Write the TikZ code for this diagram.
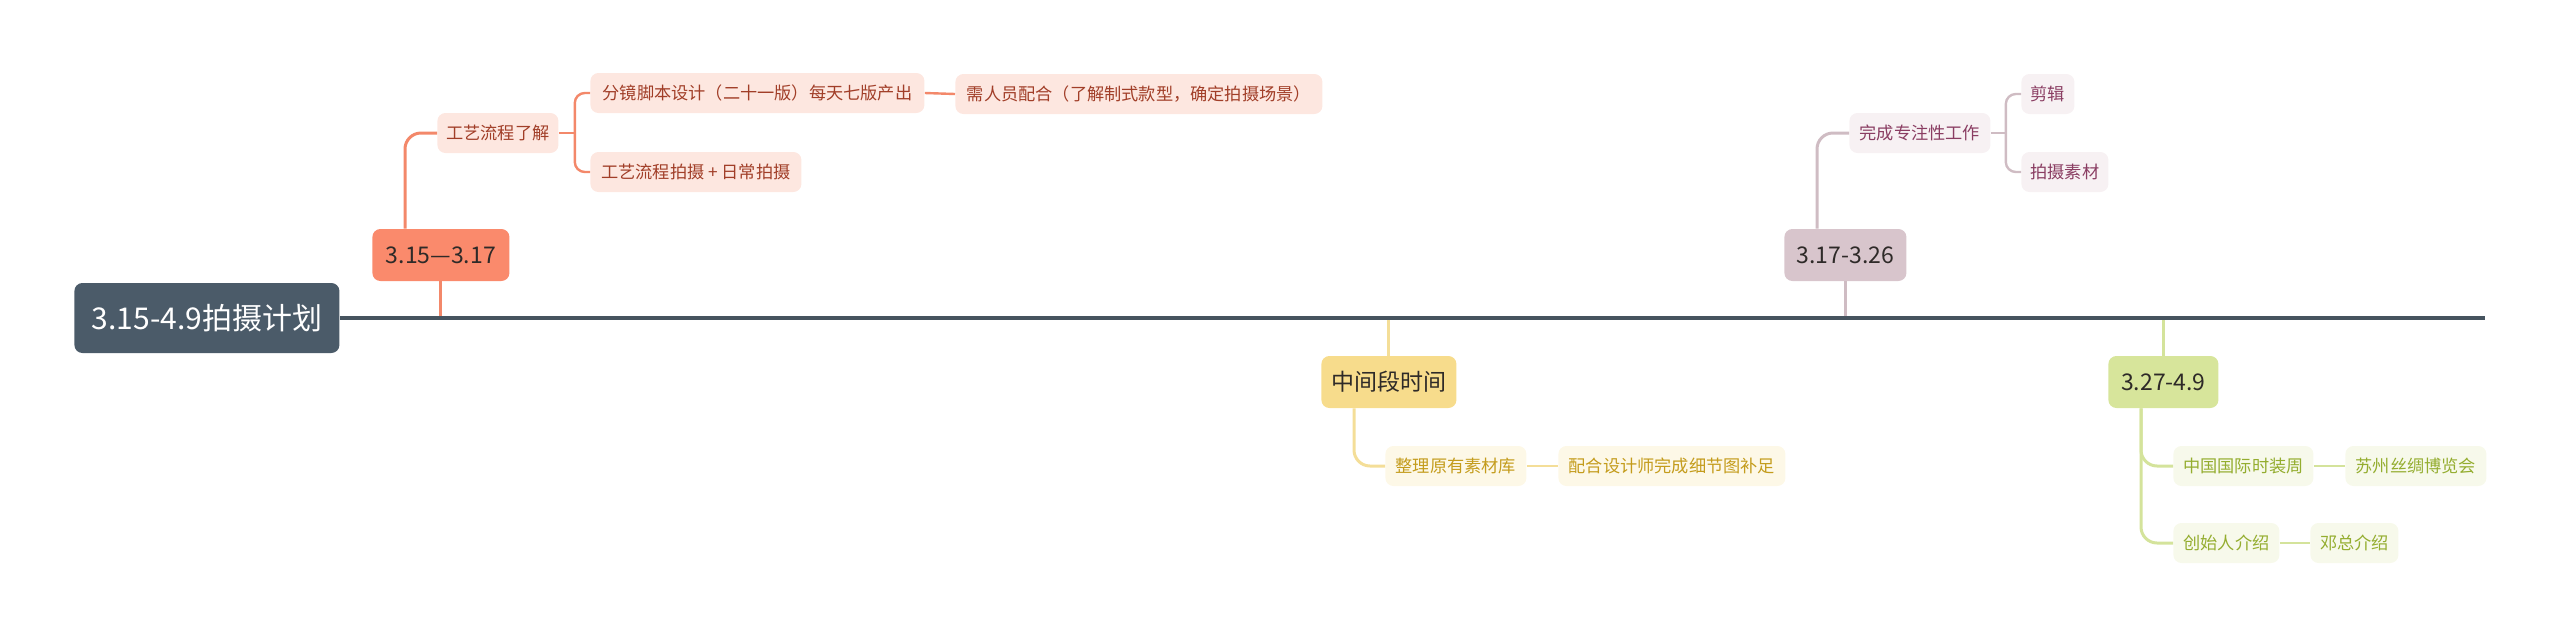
\documentclass[tikz,border=0pt]{standalone}
\usepackage{fontspec}
\newfontfamily\cjk{Noto Sans CJK SC}
\usetikzlibrary{calc}

\definecolor{rootc}{HTML}{4B5B69}
\definecolor{mainc}{HTML}{46545F}
\definecolor{stagetext}{HTML}{2E2A28}
\definecolor{coralfill}{HTML}{FA8A6C}
\definecolor{coralline}{HTML}{F3886A}
\definecolor{coralleaf}{HTML}{FDE7E0}
\definecolor{coraltext}{HTML}{A13E28}
\definecolor{mauvefill}{HTML}{D8C5CC}
\definecolor{mauveline}{HTML}{CFBCC3}
\definecolor{mauveleaf}{HTML}{F7F1F3}
\definecolor{mauvetext}{HTML}{8A3D62}
\definecolor{yelfill}{HTML}{F7DC8C}
\definecolor{yelline}{HTML}{F4DE98}
\definecolor{yelleaf}{HTML}{FDF8E7}
\definecolor{yeltext}{HTML}{C49C1C}
\definecolor{grnfill}{HTML}{D7E59B}
\definecolor{grnline}{HTML}{D4E39B}
\definecolor{grnleaf}{HTML}{F7F9EB}
\definecolor{grntext}{HTML}{94AD2F}

\tikzset{
  box/.style={anchor=west, rounded corners=4pt, inner sep=0pt, align=center},
  rootbox/.style={box, fill=rootc, text=white, minimum height=35pt, font=\cjk\fontsize{15}{18}\selectfont},
  stagebox/.style={box, text=stagetext, minimum height=26pt, font=\cjk\fontsize{11.5}{14}\selectfont},
  leafbox/.style={box, minimum height=20pt, font=\cjk\fontsize{8.6}{10}\selectfont},
  coralnode/.style={leafbox, fill=coralleaf, text=coraltext},
  mauvenode/.style={leafbox, fill=mauveleaf, text=mauvetext},
  yelnode/.style={leafbox, fill=yelleaf, text=yeltext},
  grnnode/.style={leafbox, fill=grnleaf, text=grntext},
  link/.style={line width=1.5pt, rounded corners=8pt},
  twig/.style={line width=1.2pt, rounded corners=5pt}
}

\begin{document}
\begin{tikzpicture}[x=0.5pt,y=-0.5pt]
  \useasboundingbox (0,0) rectangle (2560,638);

  \node (root) at (74,318) [rootbox, minimum width=132.5pt] {3.15-4.9拍摄计划};
  \coordinate (mend) at (2485,318);

  % 3.15--3.17
  \node (s1) at (372,255) [stagebox, fill=coralfill, minimum width=68.5pt] {3.15—3.17};
  \node (k1) at (437,133) [coralnode, minimum width=60.5pt] {工艺流程了解};
  \node (l1) at (590,93) [coralnode, minimum width=167pt] {分镜脚本设计（二十一版）每天七版产出};
  \node (l2) at (955,94) [coralnode, minimum width=183.5pt] {需人员配合（了解制式款型，确定拍摄场景）};
  \node (l3) at (590,172) [coralnode, minimum width=105.5pt] {工艺流程拍摄 + 日常拍摄};
  \coordinate (j1) at ($(k1.east)+(16,0)$);

  \draw[link, coralline] (s1.south) -- (s1.south |- root.east);
  \draw[link, coralline] ($(s1.north west)+(33,0)$) |- (k1.west);
  \draw[twig, coralline] (k1.east) -- (j1);
  \draw[twig, coralline] (j1) |- (l1.west);
  \draw[twig, coralline] (j1) |- (l3.west);
  \draw[twig, coralline] (l1.east) -- (l2.west);

  % 3.17--3.26
  \node (s2) at (1784,255) [stagebox, fill=mauvefill, minimum width=61pt] {3.17-3.26};
  \node (k2) at (1849,133) [mauvenode, minimum width=70.5pt] {完成专注性工作};
  \node (l4) at (2021,94) [mauvenode, minimum width=26.5pt] {剪辑};
  \node (l5) at (2021,172) [mauvenode, minimum width=43.5pt] {拍摄素材};
  \coordinate (j2) at ($(k2.east)+(15,0)$);

  \draw[link, mauveline] (s2.south) -- (s2.south |- root.east);
  \draw[link, mauveline] ($(s2.north west)+(33,0)$) |- (k2.west);
  \draw[twig, mauveline] (k2.east) -- (j2);
  \draw[twig, mauveline] (j2) |- (l4.west);
  \draw[twig, mauveline] (j2) |- (l5.west);

  % middle
  \node (s3) at (1321,382) [stagebox, fill=yelfill, minimum width=67.5pt] {中间段时间};
  \node (k3) at (1385,466) [yelnode, minimum width=70.5pt] {整理原有素材库};
  \node (l6) at (1558,466) [yelnode, minimum width=113.5pt] {配合设计师完成细节图补足};

  \draw[link, yelline] (s3.north |- root.east) -- (s3.north);
  \draw[link, yelline] ($(s3.south west)+(33,0)$) |- (k3.west);
  \draw[twig, yelline] (k3.east) -- (l6.west);

  % 3.27--4.9
  \node (s4) at (2108,382) [stagebox, fill=grnfill, minimum width=55pt] {3.27-4.9};
  \node (k4) at (2173,466) [grnnode, minimum width=70pt] {中国国际时装周};
  \node (l7) at (2345,466) [grnnode, minimum width=70.5pt] {苏州丝绸博览会};
  \node (k5) at (2173,543) [grnnode, minimum width=53pt] {创始人介绍};
  \node (l8) at (2310,543) [grnnode, minimum width=44pt] {邓总介绍};

  \draw[link, grnline] (s4.north |- root.east) -- (s4.north);
  \draw[link, grnline] ($(s4.south west)+(33,0)$) |- (k4.west);
  \draw[link, grnline] ($(s4.south west)+(33,0)$) |- (k5.west);
  \draw[twig, grnline] (k4.east) -- (l7.west);
  \draw[twig, grnline] (k5.east) -- (l8.west);

  \draw[line width=2pt, mainc] (root.east) -- (mend);
\end{tikzpicture}
\end{document}
